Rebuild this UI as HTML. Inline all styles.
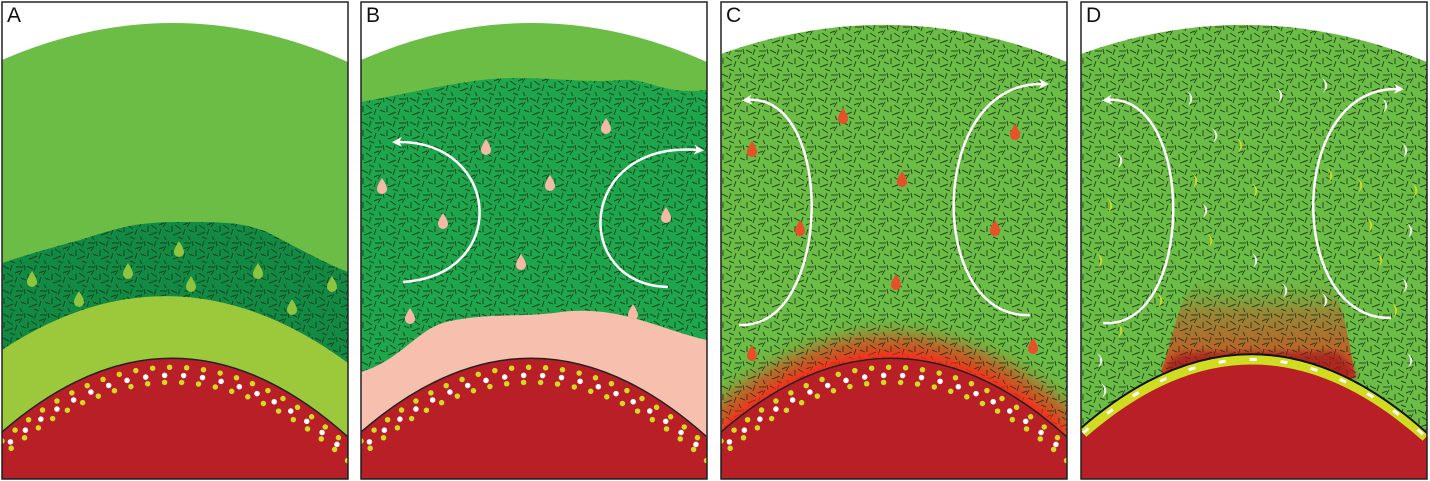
<!DOCTYPE html>
<html><head><meta charset="utf-8"><style>
html,body{margin:0;padding:0;background:#fff;width:1430px;height:481px;overflow:hidden}
svg{display:block}
text{font-family:"Liberation Sans",sans-serif;font-size:21px;fill:#111}
</style></head><body>
<svg width="1430" height="481" viewBox="0 0 1430 481">
<defs>
<pattern id="tx" width="24" height="24" patternUnits="userSpaceOnUse">
<g stroke="#142e14" stroke-width="1" stroke-opacity="0.8" fill="none">
<path d="M1,2 l6,3 M10,1 l-2,6 M14,3 l7,0 M20,6 l-3,5 M2,10 l0,6 M5,9 l6,4 M13,9 l5,-2 M15,13 l-2,6 M19,14 l5,2 M3,19 l6,-2 M8,21 l5,2 M18,20 l2,4 M22,1 l1,5 M11,16 l-5,2"/>
</g></pattern>
<clipPath id="pc"><rect x="0" y="2" width="346" height="477"/></clipPath>
<marker id="ah" viewBox="0 0 10 10" refX="5" refY="5" markerWidth="4" markerHeight="4" orient="auto-start-reverse"><path d="M0,0 L10,5 L0,10 L3,5Z" fill="#fff"/></marker>
<path id="drop" d="M0,-9 C3,-4 5,-1 5,2 A5,5 0 0 1 -5,2 C-5,-1 -3,-4 0,-9Z"/>
<path id="cres" d="M-4,-7 Q6,0 -3,8 Q2,0 -4,-7Z"/>
<filter id="bl" x="-20%" y="-50%" width="140%" height="200%"><feGaussianBlur stdDeviation="9"/></filter>
<filter id="bl2"><feGaussianBlur stdDeviation="3"/></filter>
<linearGradient id="pl" x1="0" y1="0" x2="0" y2="1"><stop offset="0" stop-color="#6bbb44" stop-opacity="0"/><stop offset="0.4" stop-color="#a47a32" stop-opacity="0.8"/><stop offset="1" stop-color="#d8441e"/></linearGradient>
</defs>

<!-- Panel A -->
<g transform="translate(2,0)"><g clip-path="url(#pc)">
<path d="M0,60 Q173,-15 346,62 L346,479 L0,479Z" fill="#6bbd45"/>
<path d="M0,263 C40,250 60,245 78,240 C110,230 130,222 175,222 C220,222 240,222 265,232 C300,250 320,262 346,272 L346,479 L0,479Z" fill="#118a44"/>
<path d="M0,263 C40,250 60,245 78,240 C110,230 130,222 175,222 C220,222 240,222 265,232 C300,250 320,262 346,272 L346,479 L0,479Z" fill="url(#tx)"/>
<path d="M0,350 Q173,236 346,363 L346,479 L0,479Z" fill="#9bc93b"/>
<g fill="#8fc43f"><use href="#drop" x="30" y="280"/><use href="#drop" x="77" y="300"/><use href="#drop" x="126" y="272"/><use href="#drop" x="177" y="250"/><use href="#drop" x="189" y="285"/><use href="#drop" x="256" y="272"/><use href="#drop" x="290" y="308"/><use href="#drop" x="330" y="285"/></g>
<path d="M0,432 Q173,282 346,437 L346,479 L0,479Z" fill="#b81f26" stroke="#222" stroke-width="1.5"/>
<g fill="none" stroke-linecap="round" stroke-width="5.5">
<path d="M0,441 Q173,291 346,446" stroke="#cfdc22" stroke-dasharray="0 17"/>
<path d="M0,449 Q173,299 346,454" stroke="#fff" stroke-dasharray="0 19" stroke-dashoffset="8"/>
<path d="M0,456 Q173,306 346,461" stroke="#cfdc22" stroke-dasharray="0 17" stroke-dashoffset="5"/>
</g></g>
<rect x="0" y="2" width="346" height="477" fill="none" stroke="#222" stroke-width="1.5"/>
<text x="5" y="22">A</text></g>

<!-- Panel B -->
<g transform="translate(361,0)"><g clip-path="url(#pc)">
<path d="M0,60 Q173,-15 346,62 L346,479 L0,479Z" fill="#6bbd45"/>
<path d="M0,102 C40,95 80,85 120,80 C170,74 220,84 260,80 C290,78 300,95 346,90 L346,479 L0,479Z" fill="#1ea64c"/>
<path d="M0,102 C40,95 80,85 120,80 C170,74 220,84 260,80 C290,78 300,95 346,90 L346,479 L0,479Z" fill="url(#tx)"/>
<path d="M0,372 C40,360 55,330 85,322 C130,312 160,318 200,312 C260,305 300,330 346,340 L346,479 L0,479Z" fill="#f6bfae"/>
<g fill="#f5b9a6"><use href="#drop" x="21" y="187"/><use href="#drop" x="49" y="317"/><use href="#drop" x="82" y="222"/><use href="#drop" x="125" y="148"/><use href="#drop" x="160" y="263"/><use href="#drop" x="189" y="184"/><use href="#drop" x="245" y="127"/><use href="#drop" x="272" y="313"/><use href="#drop" x="305" y="216"/></g>
<path d="M36,142 C140,140 150,275 42,282" fill="none" stroke="#fff" stroke-width="2.5" marker-start="url(#ah)"/>
<path d="M307,287 C210,285 215,140 338,150" fill="none" stroke="#fff" stroke-width="2.5" marker-end="url(#ah)"/>
<path d="M0,432 Q173,282 346,437 L346,479 L0,479Z" fill="#b81f26" stroke="#222" stroke-width="1.5"/>
<g fill="none" stroke-linecap="round" stroke-width="5.5">
<path d="M0,441 Q173,291 346,446" stroke="#cfdc22" stroke-dasharray="0 17"/>
<path d="M0,449 Q173,299 346,454" stroke="#fff" stroke-dasharray="0 19" stroke-dashoffset="8"/>
<path d="M0,456 Q173,306 346,461" stroke="#cfdc22" stroke-dasharray="0 17" stroke-dashoffset="5"/>
</g></g>
<rect x="0" y="2" width="346" height="477" fill="none" stroke="#222" stroke-width="1.5"/>
<text x="5" y="22">B</text></g>

<!-- Panel C -->
<g transform="translate(721,0)"><g clip-path="url(#pc)">
<path d="M0,54 Q173,-8 346,62 L346,479 L0,479Z" fill="#6bbd45"/>
<path d="M0,432 Q173,282 346,437" fill="none" stroke="#e0401e" stroke-width="46" filter="url(#bl)" opacity="0.9"/>
<path d="M0,54 Q173,-8 346,62 L346,479 L0,479Z" fill="url(#tx)"/>
<path d="M0,430 Q173,280 346,435" fill="none" stroke="#ff2a1a" stroke-width="6" filter="url(#bl2)"/>
<g fill="#e8502a"><use href="#drop" x="31" y="150"/><use href="#drop" x="122" y="117"/><use href="#drop" x="79" y="229"/><use href="#drop" x="181" y="180"/><use href="#drop" x="175" y="283"/><use href="#drop" x="294" y="133"/><use href="#drop" x="274" y="229"/><use href="#drop" x="312" y="347"/><use href="#drop" x="31" y="354"/></g>
<path d="M26,100 C115,92 112,330 18,325" fill="none" stroke="#fff" stroke-width="2.5" marker-start="url(#ah)"/>
<path d="M309,315 C205,320 205,80 323,84" fill="none" stroke="#fff" stroke-width="2.5" marker-end="url(#ah)"/>
<path d="M0,432 Q173,282 346,437 L346,479 L0,479Z" fill="#b81f26" stroke="#222" stroke-width="1.5"/>
<g fill="none" stroke-linecap="round" stroke-width="5.5">
<path d="M0,441 Q173,291 346,446" stroke="#cfdc22" stroke-dasharray="0 17"/>
<path d="M0,449 Q173,299 346,454" stroke="#fff" stroke-dasharray="0 19" stroke-dashoffset="8"/>
<path d="M0,456 Q173,306 346,461" stroke="#cfdc22" stroke-dasharray="0 17" stroke-dashoffset="5"/>
</g></g>
<rect x="0" y="2" width="346" height="477" fill="none" stroke="#222" stroke-width="1.5"/>
<text x="5" y="22">C</text></g>

<!-- Panel D -->
<g transform="translate(1081,0)"><g clip-path="url(#pc)">
<path d="M0,54 Q173,-8 346,62 L346,479 L0,479Z" fill="#6bbd45"/>
<path d="M80,372 C95,330 98,290 120,280 C150,266 210,266 240,278 C262,290 265,330 275,378Z" fill="url(#pl)"/>
<path d="M0,54 Q173,-8 346,62 L346,479 L0,479Z" fill="url(#tx)"/>
<path d="M82,374 C88,362 92,356 100,354 L120,352 L255,352 C266,358 270,365 276,378Z" fill="#a0181a" opacity="0.7" filter="url(#bl2)"/>
<g fill="#fff"><use href="#cres" x="40" y="160"/><use href="#cres" x="110" y="98"/><use href="#cres" x="135" y="135"/><use href="#cres" x="200" y="95"/><use href="#cres" x="245" y="85"/><use href="#cres" x="125" y="210"/><use href="#cres" x="175" y="260"/><use href="#cres" x="205" y="290"/><use href="#cres" x="245" y="300"/><use href="#cres" x="20" y="360"/><use href="#cres" x="24" y="390"/><use href="#cres" x="325" y="285"/><use href="#cres" x="330" y="360"/><use href="#cres" x="330" y="230"/><use href="#cres" x="305" y="105"/><use href="#cres" x="325" y="150"/></g>
<g fill="#cfdc22"><use href="#cres" x="30" y="205"/><use href="#cres" x="20" y="260"/><use href="#cres" x="40" y="330"/><use href="#cres" x="115" y="180"/><use href="#cres" x="160" y="145"/><use href="#cres" x="175" y="190"/><use href="#cres" x="250" y="175"/><use href="#cres" x="280" y="185"/><use href="#cres" x="290" y="225"/><use href="#cres" x="300" y="260"/><use href="#cres" x="315" y="310"/><use href="#cres" x="335" y="190"/><use href="#cres" x="130" y="240"/><use href="#cres" x="80" y="300"/></g>
<path d="M26,100 C115,92 115,330 22,323" fill="none" stroke="#fff" stroke-width="2.5" marker-start="url(#ah)"/>
<path d="M310,318 C205,320 205,85 318,89" fill="none" stroke="#fff" stroke-width="2.5" marker-end="url(#ah)"/>
<path d="M0,432 Q173,282 346,437 L346,479 L0,479Z" fill="#b81f26"/>
<path d="M2,433 Q173,284 345,437" fill="none" stroke="#cfdc22" stroke-width="10"/>
<path d="M2,433 Q173,284 345,437" fill="none" stroke="#fff" stroke-width="3" stroke-dasharray="7 24"/>
<path d="M0,428 Q173,278 346,433" fill="none" stroke="#111" stroke-width="2"/>
</g>
<rect x="0" y="2" width="346" height="477" fill="none" stroke="#222" stroke-width="1.5"/>
<text x="5" y="22">D</text></g>
</svg>
</body></html>
